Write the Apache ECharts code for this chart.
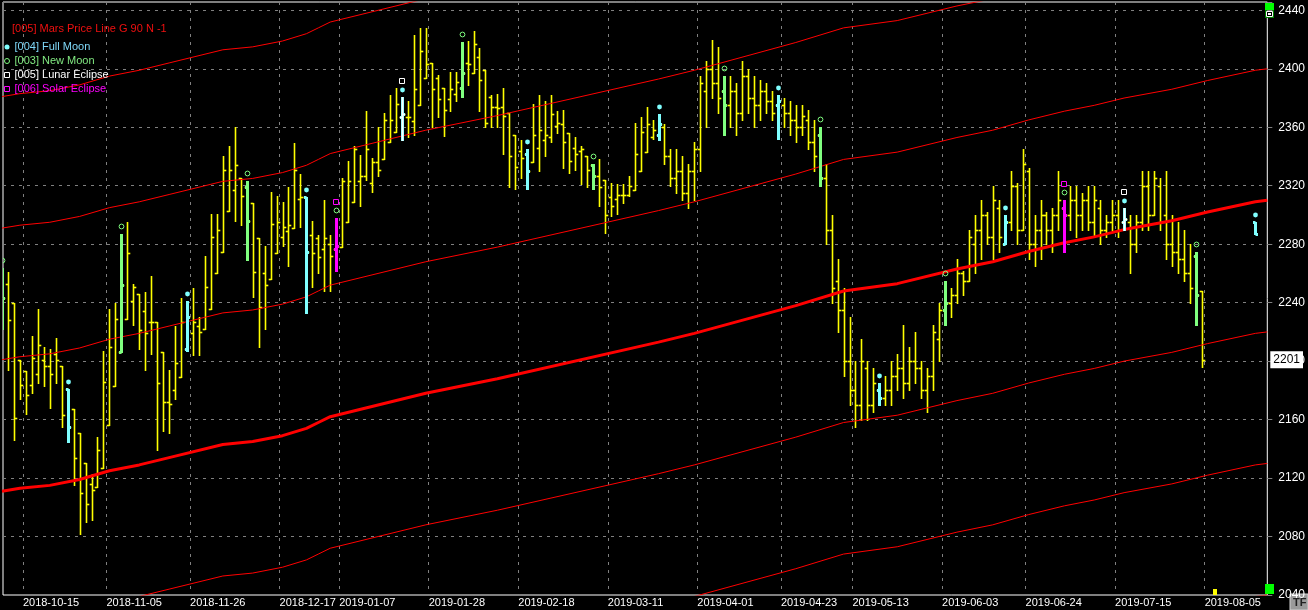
<!DOCTYPE html>
<html><head><meta charset="utf-8">
<script src="https://cdn.jsdelivr.net/npm/echarts@6/dist/echarts.min.js"></script>
<style>html,body{margin:0;padding:0;background:#000;}#c{width:1308px;height:610px;}</style>
</head><body><div id="c"></div>
<script>
// ---------------- DATA ----------------
const tickBars = [4, 18, 32, 47, 57, 72, 87, 102, 117, 131, 143, 158, 172, 187, 202];
const tickLabels = ['2018-10-15','2018-11-05','2018-11-26','2018-12-17','2019-01-07','2019-01-28','2019-02-18','2019-03-11','2019-04-01','2019-04-23','2019-05-13','2019-06-03','2019-06-24','2019-07-15','2019-08-05'];

const open = [
2262,2253,2240,2201,2193,2184,2191,2201,2197,2205,
2197,2181,2167,2151,2130,2116,2114,2127,2156,2183,
2206,2229,2241,2246,2234,2227,2227,2206,2172,2180,
2189,2208,2219,2224,2222,2236,2260,2275,2303,2317,
2325,2319,2308,2284,2260,2256,2274,2285,2289,2291,
2311,2312,2286,2284,2277,2280,2277,2278,2295,2309,
2323,2327,2322,2336,2338,2350,2357,2367,2367,2364,
2375,2394,2404,2394,2387,2379,2383,2387,2404,2397,
2408,2399,2381,2374,2374,2370,2355,2344,2342,2336,
2346,2351,2353,2361,2362,2356,2346,2344,2340,2334,
2327,2324,2312,2311,2314,2314,2317,2330,2343,2353,
2355,2360,2340,2325,2330,2315,2330,2345,2385,2400,
2390,2385,2375,2385,2370,2395,2380,2375,2385,2378,
2375,2375,2370,2365,2360,2365,2350,2355,2325,2290,
2255,2235,2200,2180,2170,2195,2170,2180,2175,2180,
2190,2195,2185,2200,2195,2180,2190,2215,2235,2240,
2245,2260,2255,2280,2290,2300,2285,2305,2280,2295,
2320,2290,2330,2280,2290,2300,2290,2300,2305,2300,
2310,2300,2310,2295,2305,2290,2295,2300,2295,2295,
2280,2295,2320,2300,2320,2300,2280,2275,2270,2260,
2272,2248];
const high = [
2264,2261,2240,2201,2193,2217,2236,2210,2208,2216,
2197,2181,2167,2151,2130,2123,2148,2207,2236,2240,
2287,2295,2253,2246,2247,2258,2227,2206,2194,2224,
2243,2241,2250,2230,2272,2301,2301,2340,2347,2360,
2325,2323,2308,2284,2279,2316,2313,2309,2319,2349,
2328,2312,2296,2286,2310,2286,2298,2325,2337,2347,
2341,2371,2339,2360,2370,2382,2387,2381,2378,2423,
2428,2428,2404,2396,2387,2398,2398,2418,2419,2426,
2414,2399,2382,2383,2387,2370,2355,2351,2345,2376,
2382,2378,2382,2371,2372,2356,2353,2347,2340,2335,
2338,2324,2322,2321,2321,2327,2363,2367,2374,2365,
2369,2362,2345,2345,2340,2335,2350,2395,2405,2420,
2415,2395,2395,2390,2405,2400,2395,2392,2390,2385,
2382,2380,2378,2375,2375,2372,2365,2360,2335,2300,
2270,2250,2230,2200,2215,2200,2195,2185,2190,2200,
2205,2225,2210,2220,2200,2195,2225,2240,2255,2250,
2270,2262,2290,2300,2310,2302,2320,2310,2300,2330,
2322,2345,2332,2300,2310,2302,2305,2330,2310,2320,
2320,2315,2320,2320,2310,2300,2310,2310,2305,2300,
2300,2330,2330,2330,2325,2330,2300,2295,2290,2280,
2275,2248];
const low = [
2222,2194,2146,2174,2164,2178,2185,2183,2168,2185,
2155,2145,2115,2082,2090,2091,2114,2127,2156,2183,
2206,2229,2225,2208,2194,2205,2139,2152,2151,2174,
2189,2207,2204,2204,2222,2236,2260,2275,2303,2296,
2293,2269,2244,2210,2222,2256,2274,2279,2265,2291,
2292,2233,2251,2260,2248,2248,2262,2278,2295,2309,
2306,2324,2316,2327,2338,2350,2357,2351,2353,2355,
2375,2394,2360,2367,2354,2371,2378,2381,2389,2397,
2371,2360,2360,2360,2342,2319,2318,2325,2318,2336,
2330,2340,2350,2356,2332,2329,2331,2321,2319,2318,
2306,2288,2299,2301,2308,2313,2317,2330,2343,2352,
2351,2335,2320,2315,2310,2305,2310,2330,2360,2380,
2370,2355,2360,2355,2365,2370,2360,2365,2370,2365,
2352,2360,2355,2350,2355,2345,2330,2320,2280,2240,
2220,2190,2170,2155,2160,2160,2165,2170,2170,2170,
2180,2175,2180,2185,2175,2165,2180,2200,2225,2230,
2240,2245,2255,2260,2270,2280,2270,2275,2280,2290,
2280,2290,2270,2265,2270,2280,2275,2290,2275,2290,
2285,2290,2290,2285,2280,2285,2290,2285,2290,2260,
2275,2290,2290,2300,2290,2270,2265,2260,2255,2240,
2225,2196];
const close = [
2243,2228,2161,2184,2177,2202,2211,2197,2191,2201,
2163,2155,2134,2110,2102,2112,2139,2186,2210,2229,
2252,2274,2251,2221,2219,2227,2185,2172,2171,2199,
2227,2230,2227,2220,2251,2285,2290,2331,2331,2334,
2313,2296,2261,2237,2252,2294,2295,2292,2293,2331,
2312,2275,2274,2271,2284,2272,2279,2323,2323,2345,
2327,2345,2336,2331,2365,2365,2376,2369,2367,2386,
2412,2403,2386,2379,2372,2386,2391,2397,2403,2417,
2392,2363,2374,2373,2368,2340,2333,2339,2330,2355,
2358,2355,2369,2363,2350,2337,2342,2345,2331,2327,
2319,2300,2306,2314,2314,2320,2342,2357,2362,2358,
2362,2340,2325,2330,2315,2330,2345,2390,2400,2390,
2380,2375,2385,2370,2395,2380,2375,2385,2378,2370,
2378,2370,2365,2360,2368,2350,2340,2325,2290,2250,
2235,2200,2180,2170,2200,2170,2185,2175,2180,2190,
2195,2185,2200,2195,2180,2190,2220,2235,2240,2245,
2260,2255,2285,2290,2300,2285,2310,2285,2295,2320,
2290,2335,2280,2290,2300,2290,2300,2310,2300,2310,
2300,2310,2295,2310,2290,2295,2300,2290,2297,2280,
2295,2320,2300,2325,2295,2280,2275,2270,2260,2250,
2245,2201];

const fullMoonBars = [11, 31, 51, 67, 88, 110, 130, 147, 168, 188];
const newMoonBars = [0, 20, 41, 56, 77, 99, 121, 137, 158, 178, 200];
const lunarEclipseBars = [67, 188];
const solarEclipseBars = [56, 178];
// projected (future) full moon bar
const projBar = [210];
const projHigh = [2295];
const projLow = [2287];

// Mars price line (base, N = 0)
const marsBar = [0, 3, 8, 13, 18, 23, 28, 37, 42, 47, 51, 53, 55, 71, 83, 110, 116, 133, 141, 150, 160, 166, 172, 178, 183, 188, 196, 202, 210, 212];
const marsVal = [2111, 2113, 2115, 2119, 2125, 2129, 2134, 2143, 2145, 2149, 2154, 2158, 2162, 2178, 2188, 2213, 2219, 2238, 2248, 2253, 2263, 2268, 2275, 2281, 2285, 2290, 2296, 2302, 2309, 2310];
const marsGap = 90;
const marsLevels = [-3, -2, -1, 0, 1, 2, 3];

// ---------------- CHART ----------------
const FONT = '"Liberation Sans", Arial, sans-serif';
const C_YEL = '#ffff00', C_CYAN = '#80ffff', C_GREEN = '#80ff80', C_WHITE = '#ffffff', C_MAG = '#ff00ff';

const barRow = i => [i, open[i], high[i], low[i], close[i]];
const priceData = open.map((_, i) => barRow(i));

function makeRender(color, lw, tick, markerFn) {
  return function (params, api) {
    const i = api.value(0);
    const pO = api.coord([i, api.value(1)]);
    const pH = api.coord([i, api.value(2)]);
    const pL = api.coord([i, api.value(3)]);
    const pC = api.coord([i, api.value(4)]);
    const x = Math.round(pH[0]) + 0.5;
    const ry = v => Math.round(v) + 0.5;
    const st = { stroke: color, lineWidth: lw };
    const ch = [
      { type: 'line', shape: { x1: x, y1: Math.round(pH[1]), x2: x, y2: Math.round(pL[1]) + 1 }, style: st },
      { type: 'line', shape: { x1: x - lw / 2 - tick, y1: ry(pO[1]), x2: x, y2: ry(pO[1]) }, style: st },
      { type: 'line', shape: { x1: x, y1: ry(pC[1]), x2: x + lw / 2 + tick, y2: ry(pC[1]) }, style: st }
    ];
    if (markerFn) markerFn(ch, x, Math.round(pH[1]));
    return { type: 'group', children: ch };
  };
}
const dotMarker = col => (ch, x, y) => ch.push({ type: 'circle', shape: { cx: x, cy: y - 7, r: 2.4 }, style: { fill: col } });
const ringMarker = col => (ch, x, y) => ch.push({ type: 'circle', shape: { cx: x, cy: y - 7.5, r: 2.4 }, style: { fill: 'none', stroke: col, lineWidth: 1 } });
const squareMarker = col => (ch, x, y) => ch.push({ type: 'rect', shape: { x: Math.floor(x) - 2.5, y: y - 18.5, width: 5, height: 5 }, style: { fill: 'none', stroke: col, lineWidth: 1 } });

const fullData = fullMoonBars.map(barRow).concat(projBar.map((b, j) => [b, projHigh[j], projHigh[j], projLow[j], projLow[j]]));
const lastClose = close[close.length - 1];

const series = [
  { type: 'custom', name: 'Price', data: priceData, clip: true, z: 2, silent: true,
    encode: { x: 0, y: [1, 2, 3, 4] }, renderItem: makeRender(C_YEL, 1.6, 2) },
  { type: 'custom', name: '[004] Full Moon', data: fullData, clip: true, z: 4, silent: true,
    encode: { x: 0, y: [1, 2, 3, 4] }, renderItem: makeRender(C_CYAN, 3, 1, dotMarker(C_CYAN)) },
  { type: 'custom', name: '[003] New Moon', data: newMoonBars.map(barRow), clip: true, z: 4, silent: true,
    encode: { x: 0, y: [1, 2, 3, 4] }, renderItem: makeRender(C_GREEN, 3, 1, ringMarker(C_GREEN)) },
  { type: 'custom', name: '[005] Lunar Eclipse', data: lunarEclipseBars.map(barRow), clip: true, z: 5, silent: true,
    encode: { x: 0, y: [1, 2, 3, 4] }, renderItem: makeRender(C_WHITE, 1.6, 2, squareMarker(C_WHITE)) },
  { type: 'custom', name: '[006] Solar Eclipse', data: solarEclipseBars.map(barRow), clip: true, z: 5, silent: true,
    encode: { x: 0, y: [1, 2, 3, 4] }, renderItem: makeRender(C_MAG, 3, 1, squareMarker(C_MAG)) }
];
marsLevels.forEach(k => {
  series.push({
    type: 'line', name: 'Mars', silent: true, symbol: 'none', clip: true, z: 3,
    data: marsBar.map((b, j) => [b, marsVal[j] + k * marsGap]),
    lineStyle: { color: '#ff0000', width: k === 0 ? 3 : 1 }
  });
});

const tickPos = tickBars.map(b => b - 0.5);
const option = {
  backgroundColor: '#000',
  animation: false,
  textStyle: { fontFamily: FONT },
  title: { text: '[005] Mars Price Line G 90 N -1', left: 12, top: 23, padding: 0,
           textStyle: { color: '#f01010', fontSize: 11, fontWeight: 'normal', fontFamily: FONT } },
  legend: {
    orient: 'vertical', left: 4, top: 40, padding: 0, itemGap: 0, itemWidth: 5, itemHeight: 5,
    selectedMode: false,
    textStyle: { fontSize: 11, fontFamily: FONT, lineHeight: 14 },
    data: [
      { name: '[004] Full Moon', icon: 'circle', itemStyle: { color: C_CYAN }, textStyle: { color: '#7fd8f8' } },
      { name: '[003] New Moon', icon: 'circle', itemStyle: { color: 'transparent', borderColor: C_GREEN, borderWidth: 1 }, textStyle: { color: '#80e880' } },
      { name: '[005] Lunar Eclipse', icon: 'rect', itemStyle: { color: 'transparent', borderColor: C_WHITE, borderWidth: 1 }, textStyle: { color: '#ffffff' } },
      { name: '[006] Solar Eclipse', icon: 'rect', itemStyle: { color: 'transparent', borderColor: C_MAG, borderWidth: 1 }, textStyle: { color: C_MAG } }
    ]
  },
  grid: { left: 3, right: 34, top: 2, bottom: 15, show: true, borderColor: '#ffffff', borderWidth: 1, backgroundColor: '#000' },
  xAxis: {
    type: 'value', min: 1 / 6, max: 212,
    axisLine: { show: false },
    axisTick: { show: false, customValues: tickPos },
    axisLabel: { customValues: tickPos, color: '#ffffff', fontSize: 11, fontFamily: FONT, align: 'left', margin: 2,
                 formatter: v => { const j = tickPos.findIndex(t => Math.abs(t - v) < 0.01); return j >= 0 ? tickLabels[j] : ''; } },
    splitLine: { show: true, lineStyle: { color: '#808080', type: [3, 5], width: 1 } }
  },
  yAxis: [{
    type: 'value', position: 'right', min: 2040, max: 2445.7, interval: 40,
    axisLine: { show: false },
    axisTick: { show: true, length: 5, lineStyle: { color: '#808080' } },
    axisLabel: { color: '#ffffff', fontSize: 12, fontFamily: FONT, margin: 11,
                 formatter: v => (Math.abs(v % 40) < 0.01 ? String(v) : '') },
    splitLine: { show: true, lineStyle: { color: '#808080', type: [3, 5], width: 1 } }
  }, {
    type: 'value', position: 'right', min: 2040, max: 2445.7,
    axisLine: { show: false }, axisTick: { show: false }, splitLine: { show: false },
    axisLabel: { customValues: [lastClose], formatter: v => String(Math.round(v)), color: '#000000',
                 backgroundColor: '#ffffff', padding: [3, 3, 2, 3], margin: 3, fontSize: 12, fontFamily: FONT }
  }],
  graphic: [
    { type: 'rect', shape: { x: 1265, y: 3, width: 9, height: 8 }, style: { fill: '#00ff00' } },
    { type: 'rect', shape: { x: 1265, y: 10, width: 9, height: 8 }, style: { fill: '#008000' } },
    { type: 'rect', shape: { x: 1266.5, y: 11.5, width: 6, height: 5 }, style: { fill: '#000', stroke: '#fff', lineWidth: 1 } },
    { type: 'rect', shape: { x: 1268, y: 13, width: 3, height: 2 }, style: { fill: '#fff' } },
    { type: 'rect', shape: { x: 1265, y: 584, width: 9, height: 10 }, style: { fill: '#00ff00' } },
    { type: 'rect', shape: { x: 1213, y: 589, width: 4, height: 6 }, style: { fill: '#ffff00' } },
    { type: 'rect', shape: { x: 1290, y: 594, width: 18, height: 16 }, style: { fill: '#9a9a9a', stroke: '#d0d0d0', lineWidth: 1 } },
    { type: 'text', x: 1293, y: 597, style: { text: 'TF', fill: '#202020', font: 'bold 11px ' + FONT } }
  ],
  series: series
};
const chart = echarts.init(document.getElementById('c'), null, { renderer: 'canvas' });
chart.setOption(option);
</script></body></html>
